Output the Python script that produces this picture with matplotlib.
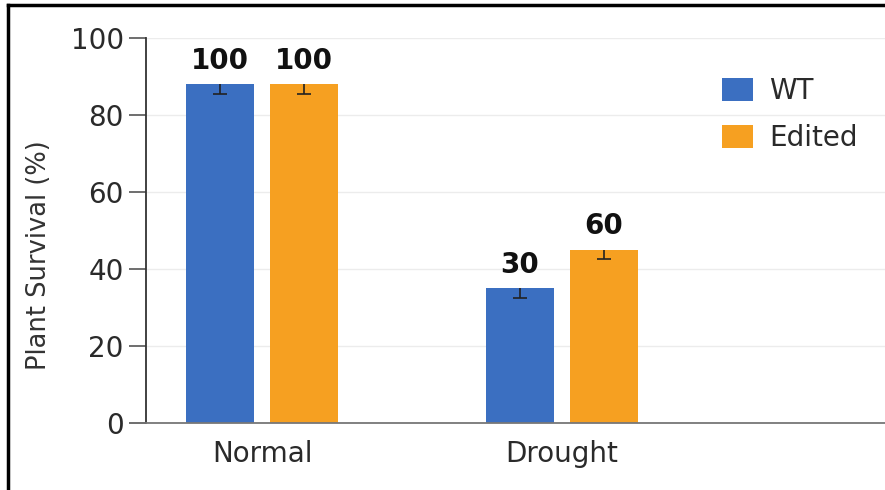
import matplotlib
matplotlib.use("Agg")
import matplotlib.pyplot as plt
import numpy as np
from matplotlib.lines import Line2D

categories = ["Normal", "Drought"]
series_names = ["WT", "Edited"]
wt_values = [88, 35]
edited_values = [88, 45]
wt_err = [2.5, 2.5]
edited_err = [2.5, 2.5]
wt_labels = ["100", "30"]
edited_labels = ["100", "60"]
yticks = [0, 20, 40, 60, 80, 100]

blue = "#3B6FC1"
orange = "#F6A021"
txt = "#2a2a2a"

plt.rcParams["font.family"] = ["DejaVu Sans"]

fig = plt.figure(figsize=(8.85, 4.9), dpi=100)
ax = fig.add_axes([0.165, 0.1367, 0.835, 0.7857])

x = np.arange(len(categories))
w = 0.225
off = 0.14
for vals, errs, labels, color, dx, name in [
    (wt_values, wt_err, wt_labels, blue, -off, series_names[0]),
    (edited_values, edited_err, edited_labels, orange, off, series_names[1]),
]:
    ax.bar(x + dx, vals, width=w, color=color, label=name, zorder=2)
    eb = ax.errorbar(x + dx, vals, yerr=[errs, [0] * len(errs)], fmt="none",
                     ecolor="#222222", elinewidth=1.2, capsize=5, capthick=1.2, zorder=3)
    caps = eb[1]
    if len(caps) > 1:
        caps[1].set_visible(False)
    for xi, v, lab in zip(x + dx, vals, labels):
        ax.text(xi, v + 2.5, lab, ha="center", va="bottom", fontsize=20,
                fontweight="bold", color="#111111")

ax.set_xlim(-0.387, 2.077)
ax.set_ylim(0, 100)
ax.set_yticks(yticks)
ax.set_xticks(x)
ax.set_xticklabels(categories)
ax.yaxis.grid(True, color="#ececec", linewidth=1.0, zorder=0)
ax.set_axisbelow(True)
for s in ["top", "right"]:
    ax.spines[s].set_visible(False)
ax.spines["left"].set_color("#333333")
ax.spines["bottom"].set_color("#777777")
ax.spines["left"].set_linewidth(1.3)
ax.spines["bottom"].set_linewidth(1.3)
ax.tick_params(axis="y", length=12, width=1.2, color="#555555", labelsize=20,
               labelcolor=txt, pad=4)
ax.tick_params(axis="x", length=0, labelsize=20, labelcolor=txt, pad=12)
ax.set_ylabel("Plant Survival (%)", fontsize=18.5, color="#333333")
ax.yaxis.set_label_coords(-0.127, 0.435)

ax.legend(loc="upper left", bbox_to_anchor=(0.8158, 0.842), bbox_transform=fig.transFigure,
          frameon=False, fontsize=20, handlelength=1.1, handleheight=0.9,
          handletextpad=0.6, labelspacing=0.68, borderpad=0, borderaxespad=0,
          labelcolor=txt)

# image border (top and left)
fig.add_artist(Line2D([8 / 885, 8 / 885], [0, 1 - 5 / 490], transform=fig.transFigure,
                      color="black", linewidth=2.5))
fig.add_artist(Line2D([8 / 885, 1], [1 - 5 / 490, 1 - 5 / 490], transform=fig.transFigure,
                      color="black", linewidth=2.5))

fig.savefig("out.png", dpi=100)
